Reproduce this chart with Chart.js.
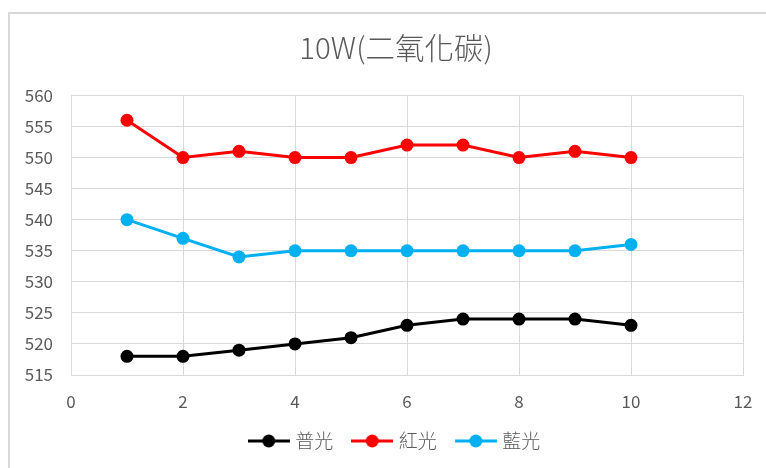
<!DOCTYPE html>
<html>
<head>
<meta charset="utf-8">
<script src="https://cdn.jsdelivr.net/npm/chart.js@4"></script>
<style>
  html, body { margin: 0; padding: 0; background: #fff; overflow: hidden; }
  #box {
    position: absolute; left: 8px; top: 12px;
    width: 770px; height: 470px;
    border: 2px solid #d9d9d9; box-sizing: border-box;
  }
  #wrap { position: absolute; left: 8px; top: 12px; width: 770px; height: 470px; }
</style>
</head>
<body>
<div id="box"></div>
<div id="wrap"><canvas id="line-chart"></canvas></div>
<script>
// data
var xValues = [1, 2, 3, 4, 5, 6, 7, 8, 9, 10];
var puGuang = [518, 518, 519, 520, 521, 523, 524, 524, 524, 523];
var hongGuang = [556, 550, 551, 550, 550, 552, 552, 550, 551, 550];
var lanGuang = [540, 537, 534, 535, 535, 535, 535, 535, 535, 536];
var seriesNames = ["普光", "紅光", "藍光"];
var seriesColors = ["#000000", "#ff0000", "#00b0f0"];

var fontFam = '"Noto Sans CJK TC", "Noto Sans", sans-serif';

function toPoints(ys) {
    return xValues.map(function (x, i) { return { x: x, y: ys[i] }; });
}

// little line+dot icon for the legend
function legendIcon(color) {
    var c = document.createElement("canvas");
    c.width = 42; c.height = 16;
    var g = c.getContext("2d");
    g.strokeStyle = color; g.lineWidth = 3;
    g.beginPath(); g.moveTo(0, 8); g.lineTo(42, 8); g.stroke();
    g.fillStyle = color;
    g.beginPath(); g.arc(21, 8, 6.5, 0, Math.PI * 2); g.fill();
    return c;
}

var allSeries = [puGuang, hongGuang, lanGuang];
var datasets = allSeries.map(function (ys, i) {
    return {
        label: seriesNames[i],
        data: toPoints(ys),
        showLine: true,
        borderColor: seriesColors[i],
        backgroundColor: seriesColors[i],
        borderWidth: 3,
        pointRadius: 6.5,
        pointHoverRadius: 6.5,
        pointBorderWidth: 0
    };
});

var ctx = document.getElementById("line-chart").getContext("2d");
var myChart = new Chart(ctx, {
    type: "scatter",
    data: { datasets: datasets },
    options: {
        responsive: true,
        maintainAspectRatio: false,
        animation: false,
        layout: { padding: { left: 6, right: 0, top: 0, bottom: 21.5 } },
        plugins: {
            title: {
                display: true,
                text: "10W(二氧化碳)",
                color: "#595959",
                font: { family: fontFam, size: 29.5, weight: 300 },
                padding: { top: 18, bottom: 30 }
            },
            legend: {
                position: "bottom",
                labels: {
                    color: "#595959",
                    font: { family: fontFam, size: 19, weight: 300 },
                    usePointStyle: true,
                    pointStyleWidth: 34,
                    padding: 22,
                    generateLabels: function (chart) {
                        return chart.data.datasets.map(function (ds, i) {
                            return {
                                text: ds.label,
                                pointStyle: legendIcon(ds.borderColor),
                                fillStyle: ds.borderColor,
                                strokeStyle: ds.borderColor,
                                fontColor: "#595959",
                                lineWidth: 0,
                                hidden: false,
                                datasetIndex: i
                            };
                        });
                    }
                }
            },
            tooltip: { enabled: false }
        },
        scales: {
            x: {
                type: "linear",
                min: 0,
                max: 12,
                ticks: {
                    stepSize: 2,
                    color: "#595959",
                    font: { family: fontFam, size: 17 },
                    padding: 16
                },
                grid: { color: "#d9d9d9", drawTicks: false },
                border: { color: "#d9d9d9" },
                afterFit: function (s) { s.height = 34.5; }
            },
            y: {
                min: 515,
                max: 560,
                ticks: {
                    stepSize: 5,
                    color: "#595959",
                    font: { family: fontFam, size: 17 },
                    padding: 18
                },
                grid: { color: "#d9d9d9", drawTicks: false },
                border: { color: "#d9d9d9" },
                afterFit: function (s) { s.width = 57; }
            },
            // empty right-hand space, keeps title and legend centred on the frame
            yRight: {
                type: "linear",
                axis: "y",
                position: "right",
                ticks: { display: false },
                grid: { display: false },
                border: { display: false },
                afterFit: function (s) { s.width = 35; }
            }
        }
    }
});
</script>
</body>
</html>
